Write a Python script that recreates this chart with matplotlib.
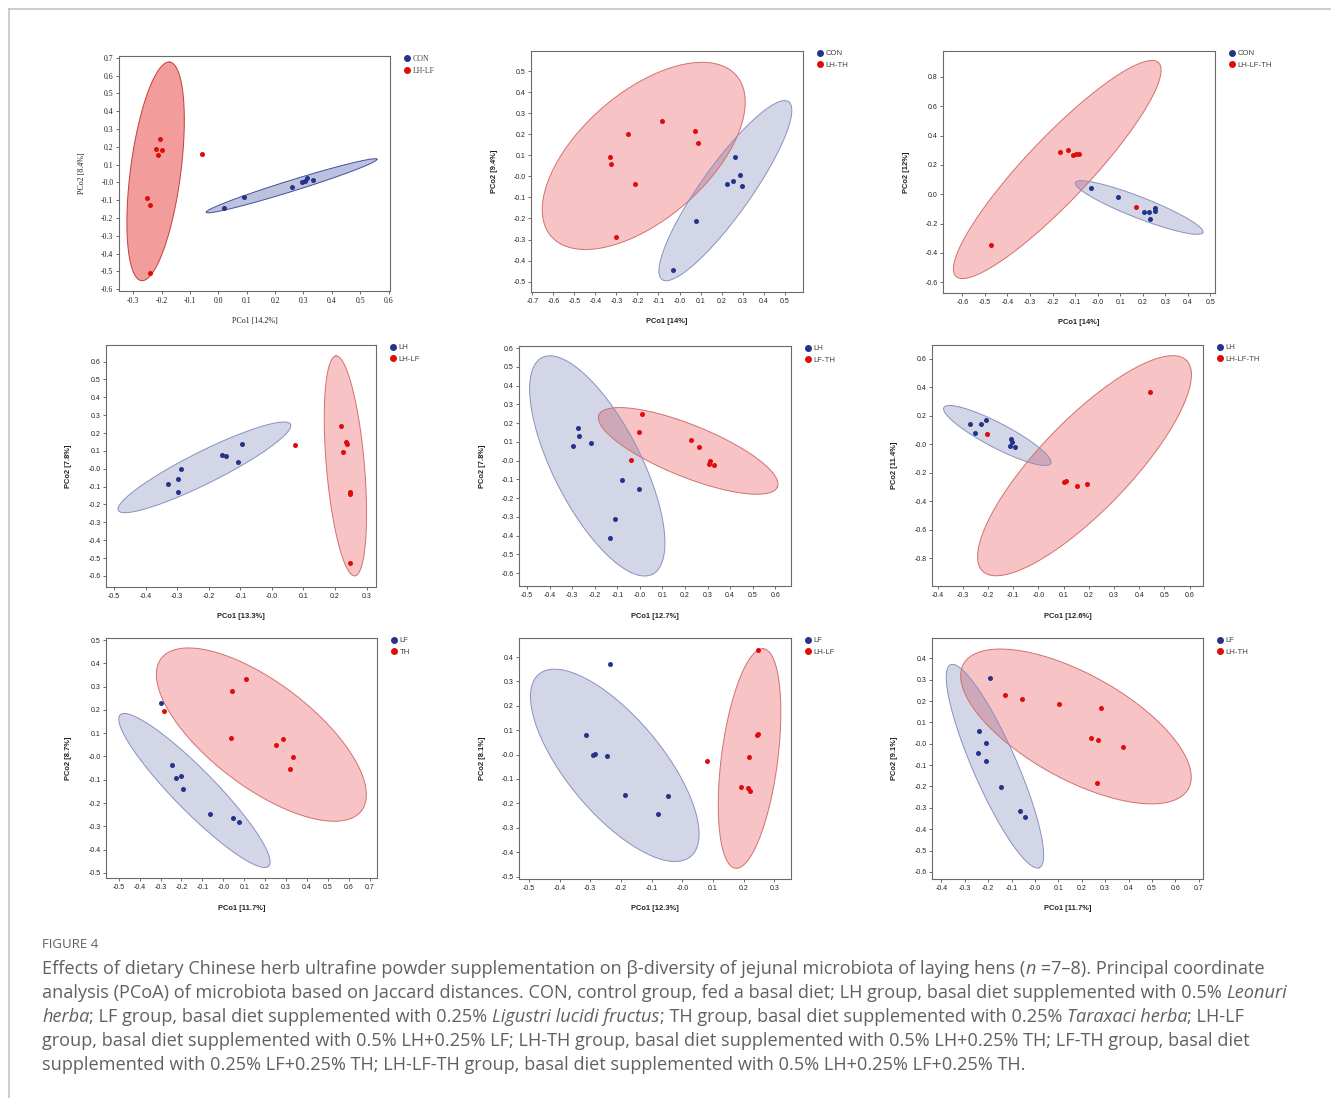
import numpy as np
import matplotlib
matplotlib.use("Agg")
import matplotlib.pyplot as plt
from matplotlib.lines import Line2D

# ---- data ----
groups = [("CON", "LH-LF"), ("CON", "LH-TH"), ("CON", "LH-LF-TH"),
          ("LH", "LH-LF"), ("LH", "LF-TH"), ("LH", "LH-LF-TH"),
          ("LF", "TH"), ("LF", "LH-LF"), ("LF", "LH-TH")]
pc1_labels = ["PCo1 [14.2%]", "PCo1 [14%]", "PCo1 [14%]",
              "PCo1 [13.3%]", "PCo1 [12.7%]", "PCo1 [12.6%]",
              "PCo1 [11.7%]", "PCo1 [12.3%]", "PCo1 [11.7%]"]
pc2_labels = ["PCo2 [8.4%]", "PCo2 [9.4%]", "PCo2 [12%]",
              "PCo2 [7.8%]", "PCo2 [7.8%]", "PCo2 [11.4%]",
              "PCo2 [8.7%]", "PCo2 [8.1%]", "PCo2 [9.1%]"]

blue_x = [
    [0.020, 0.092, 0.260, 0.295, 0.304, 0.314, 0.333],
    [0.262, 0.287, 0.225, 0.254, 0.298, 0.076, -0.032],
    [-0.028, 0.089, 0.207, 0.228, 0.255, 0.255, 0.233],
    [-0.331, -0.299, -0.298, -0.288, -0.159, -0.147, -0.109, -0.096],
    [-0.275, -0.268, -0.297, -0.216, -0.080, -0.003, -0.109, -0.132],
    [-0.271, -0.252, -0.227, -0.206, -0.108, -0.103, -0.114, -0.094],
    [-0.296, -0.245, -0.227, -0.200, -0.192, -0.065, 0.045, 0.075],
    [-0.235, -0.313, -0.290, -0.283, -0.245, -0.186, -0.048, -0.079],
    [-0.191, -0.241, -0.210, -0.245, -0.208, -0.147, -0.066, -0.043],
]
blue_y = [
    [-0.144, -0.082, -0.024, 0.005, 0.009, 0.026, 0.011],
    [0.094, 0.007, -0.034, -0.021, -0.047, -0.210, -0.443],
    [0.042, -0.019, -0.119, -0.124, -0.094, -0.117, -0.169],
    [-0.084, -0.129, -0.056, 0.000, 0.078, 0.071, 0.036, 0.140],
    [0.176, 0.131, 0.078, 0.096, -0.102, -0.149, -0.309, -0.412],
    [0.146, 0.078, 0.146, 0.174, 0.038, 0.019, -0.011, -0.018],
    [0.231, -0.038, -0.094, -0.082, -0.141, -0.247, -0.265, -0.280],
    [0.370, 0.080, 0.000, 0.003, -0.004, -0.166, -0.168, -0.242],
    [0.308, 0.058, 0.003, -0.041, -0.081, -0.202, -0.314, -0.344],
]
red_x = [
    [-0.204, -0.219, -0.200, -0.212, -0.253, -0.239, -0.241, -0.059],
    [-0.084, -0.243, -0.330, -0.327, -0.211, -0.303, 0.073, 0.086],
    [-0.166, -0.133, -0.108, -0.096, -0.084, -0.473, 0.172],
    [0.074, 0.219, 0.234, 0.237, 0.224, 0.246, 0.247, 0.247],
    [0.009, -0.005, -0.041, 0.228, 0.260, 0.309, 0.308, 0.330],
    [-0.202, 0.444, 0.100, 0.109, 0.154, 0.191],
    [-0.282, 0.040, 0.109, 0.039, 0.252, 0.287, 0.333, 0.321],
    [0.248, 0.079, 0.243, 0.248, 0.216, 0.191, 0.214, 0.219],
    [-0.126, -0.056, 0.104, 0.283, 0.239, 0.268, 0.376, 0.263],
]
red_y = [
    [0.246, 0.190, 0.182, 0.156, -0.088, -0.127, -0.507, 0.160],
    [0.265, 0.202, 0.091, 0.058, -0.037, -0.289, 0.216, 0.158],
    [0.285, 0.303, 0.269, 0.274, 0.274, -0.344, -0.089],
    [0.131, 0.237, 0.151, 0.138, 0.095, -0.129, -0.140, -0.527],
    [0.251, 0.151, 0.002, 0.108, 0.074, -0.003, -0.020, -0.024],
    [0.073, 0.366, -0.262, -0.255, -0.290, -0.274],
    [0.197, 0.280, 0.334, 0.079, 0.051, 0.074, -0.001, -0.055],
    [0.429, -0.025, 0.079, 0.084, -0.009, -0.132, -0.138, -0.149],
    [0.230, 0.211, 0.186, 0.167, 0.025, 0.017, -0.017, -0.184],
]

# ellipses: centre (cx, cy), end of major axis (mx, my), end of minor axis (nx, ny)
blue_ellipses = [
    (0.258, -0.019, 0.559, 0.130, 0.263, -0.049),
    (0.218, -0.068, 0.519, 0.354, 0.314, -0.137),
    (0.184, -0.090, 0.467, -0.260, 0.167, -0.157),
    (-0.214, 0.008, 0.059, 0.249, -0.191, -0.072),
    (-0.189, -0.028, 0.056, -0.606, -0.016, 0.078),
    (-0.163, 0.063, 0.049, -0.133, -0.185, -0.014),
    (-0.138, -0.146, 0.217, -0.471, -0.067, -0.084),
    (-0.220, -0.044, 0.027, -0.418, -0.100, 0.081),
    (-0.171, -0.105, 0.019, -0.580, -0.086, -0.063),
]
red_ellipses = [
    (-0.221, 0.062, -0.171, 0.676, -0.133, 0.044),
    (-0.170, 0.097, 0.270, 0.479, 0.028, -0.130),
    (-0.179, 0.169, 0.270, 0.898, -0.075, 0.023),
    (0.233, 0.016, 0.203, 0.632, 0.293, 0.025),
    (0.214, 0.052, 0.610, -0.140, 0.171, -0.077),
    (0.183, -0.149, 0.587, 0.591, 0.312, -0.370),
    (0.182, 0.094, 0.661, -0.233, 0.333, 0.272),
    (0.219, -0.016, 0.265, 0.434, 0.310, -0.031),
    (0.175, 0.081, 0.656, -0.210, 0.282, 0.297),
]

x_limits = [(-0.35, 0.605), (-0.706, 0.587), (-0.686, 0.521),
            (-0.526, 0.330), (-0.536, 0.670), (-0.422, 0.653),
            (-0.561, 0.735), (-0.532, 0.354), (-0.440, 0.718)]
y_limits = [(-0.61, 0.71), (-0.549, 0.595), (-0.673, 0.977),
            (-0.662, 0.693), (-0.669, 0.612), (-0.993, 0.698),
            (-0.522, 0.509), (-0.510, 0.478), (-0.633, 0.495)]
x_ticks = [(-0.3, 0.6, 0.1), (-0.7, 0.5, 0.1), (-0.6, 0.5, 0.1),
           (-0.5, 0.3, 0.1), (-0.5, 0.6, 0.1), (-0.4, 0.6, 0.1),
           (-0.5, 0.7, 0.1), (-0.5, 0.3, 0.1), (-0.4, 0.7, 0.1)]
y_ticks = [(-0.6, 0.7, 0.1), (-0.5, 0.5, 0.1), (-0.6, 0.8, 0.2),
           (-0.6, 0.6, 0.1), (-0.6, 0.6, 0.1), (-0.8, 0.6, 0.2),
           (-0.5, 0.5, 0.1), (-0.5, 0.4, 0.1), (-0.6, 0.4, 0.1)]

# axes boxes in pixels: left, right, top, bottom
boxes = [(119, 390, 56, 291), (531, 803, 51, 292), (943, 1215, 51, 293),
         (106, 376, 345, 587), (519, 791, 346, 586), (932, 1203, 345, 586),
         (106, 377, 638, 878), (519, 791, 638, 879), (932, 1203, 638, 879)]

W, H = 1331, 1098
fig = plt.figure(figsize=(W / 100, H / 100), dpi=100)

BLUE = "#25348a"
RED = "#e00b0b"

t = np.linspace(0, 2 * np.pi, 200)


def ellipse(ax, e, face, edge, alpha):
    cx, cy, mx, my, nx, ny = e
    ex = cx + (mx - cx) * np.cos(t) + (nx - cx) * np.sin(t)
    ey = cy + (my - cy) * np.cos(t) + (ny - cy) * np.sin(t)
    ax.fill(ex, ey, color=face, alpha=alpha, lw=0, zorder=1)
    ax.plot(ex, ey, color=edge, lw=0.7, zorder=2)


for i in range(9):
    l, r, tp, b = boxes[i]
    ax = fig.add_axes([l / W, 1 - b / H, (r - l) / W, (b - tp) / H])
    serif = i == 0
    fam = ["Liberation Serif"] if serif else ["Liberation Sans"]
    fs = 5.6 if serif else 5.0

    if serif:
        ellipse(ax, red_ellipses[i], "#ec5a5a", "#c04040", 0.6)
        ellipse(ax, blue_ellipses[i], "#4050a0", "#4050a0", 0.35)
    else:
        ellipse(ax, red_ellipses[i], "#ee5a5e", "#d27070", 0.36)
        ellipse(ax, blue_ellipses[i], "#3a4890", "#8a90c0", 0.22)

    ax.scatter(blue_x[i], blue_y[i], s=13, color=BLUE, lw=0, zorder=3)
    ax.scatter(red_x[i], red_y[i], s=13, color=RED, lw=0, zorder=3)

    ax.set_xlim(*x_limits[i])
    ax.set_ylim(*y_limits[i])
    x0, x1, dx = x_ticks[i]
    y0, y1, dy = y_ticks[i]
    ax.set_xticks(np.round(np.arange(x0, x1 + dx / 2, dx), 2))
    ax.set_yticks(np.round(np.arange(y0, y1 + dy / 2, dy), 2))
    ax.xaxis.set_major_formatter(matplotlib.ticker.FormatStrFormatter("%.1f"))
    ax.yaxis.set_major_formatter(matplotlib.ticker.FormatStrFormatter("%.1f"))
    ax.tick_params(direction="out", length=2.5, width=0.6, colors="#555555",
                   labelcolor="#222222", labelsize=fs, pad=1.5)
    for lab in ax.get_xticklabels() + ax.get_yticklabels():
        lab.set_family(fam)
    for sp in ax.spines.values():
        sp.set_color("#6a6a6a")
        sp.set_linewidth(0.8)

    ax.set_xlabel(pc1_labels[i], fontsize=5.4 if not serif else 5.8,
                  family=fam, fontweight="normal" if serif else "bold",
                  color="#222222", va="center")
    ax.set_ylabel(pc2_labels[i], fontsize=5.4 if not serif else 5.8,
                  family=fam, fontweight="normal" if serif else "bold",
                  color="#222222", va="center")
    ax.xaxis.set_label_coords(0.5, -30 / (b - tp))
    ax.yaxis.set_label_coords(-37 / (r - l), 0.5)

    handles = [Line2D([], [], marker="o", ls="", color=BLUE, markersize=4.0),
               Line2D([], [], marker="o", ls="", color=RED, markersize=4.0)]
    leg = ax.legend(handles, groups[i], loc="upper left",
                    bbox_to_anchor=(1.055, 1.005), frameon=False,
                    prop={"family": fam, "size": 5.6},
                    handlelength=0.6, handletextpad=0.4,
                    labelspacing=0.55, borderaxespad=0, borderpad=0)
    for txt in leg.get_texts():
        txt.set_color("#444444")

# frame around the figure card
fig.add_artist(Line2D([9 / W, 1], [1 - 9 / H, 1 - 9 / H],
                      transform=fig.transFigure, color="#c4c4c4", lw=1.2))
fig.add_artist(Line2D([9 / W, 9 / W], [0, 1 - 9 / H],
                      transform=fig.transFigure, color="#c4c4c4", lw=1.2))

# ---- caption ----
cap_color = "#606060"
cap_fam = ["Open Sans", "DejaVu Sans"]
fig.text(42 / W, 1 - 944 / H, "FIGURE 4", family=cap_fam, fontsize=9.5,
         color=cap_color, va="center")

caption_lines = [
    [("Effects of dietary Chinese herb ultrafine powder supplementation on "
      "\u03b2-diversity of jejunal microbiota of laying hens (", "normal"),
     ("n", "italic"), (" =7\u20138). Principal coordinate", "normal")],
    [("analysis (PCoA) of microbiota based on Jaccard distances. CON, control "
      "group, fed a basal diet; LH group, basal diet supplemented with 0.5% ",
      "normal"), ("Leonuri", "italic")],
    [("herba", "italic"), ("; LF group, basal diet supplemented with 0.25% ", "normal"),
     ("Ligustri lucidi fructus", "italic"),
     ("; TH group, basal diet supplemented with 0.25% ", "normal"),
     ("Taraxaci herba", "italic"), ("; LH-LF", "normal")],
    [("group, basal diet supplemented with 0.5% LH+0.25% LF; LH-TH group, basal "
      "diet supplemented with 0.5% LH+0.25% TH; LF-TH group, basal diet", "normal")],
    [("supplemented with 0.25% LF+0.25% TH; LH-LF-TH group, basal diet "
      "supplemented with 0.5% LH+0.25% LF+0.25% TH.", "normal")],
]
line_y = [969, 993, 1017, 1041, 1065]

renderer = fig.canvas.get_renderer()


def text_width(s, style, size):
    a = fig.text(0, 0, s + "|", family=cap_fam, style=style, fontsize=size)
    bar = fig.text(0, 0, "|", family=cap_fam, style=style, fontsize=size)
    w = a.get_window_extent(renderer).width - bar.get_window_extent(renderer).width
    a.remove()
    bar.remove()
    return w


# fit the font size so the second line spans as in the reference
probe = 11.0
w2 = sum(text_width(s, st, probe) for s, st in caption_lines[1])
cap_size = probe * (1293 - 42) / w2

for segs, yy in zip(caption_lines, line_y):
    x = 42.0
    for s, st in segs:
        fig.text(x / W, 1 - yy / H, s, family=cap_fam, style=st,
                 fontsize=cap_size, color=cap_color, va="center")
        x += text_width(s, st, cap_size)

fig.savefig("out.png", dpi=100)
